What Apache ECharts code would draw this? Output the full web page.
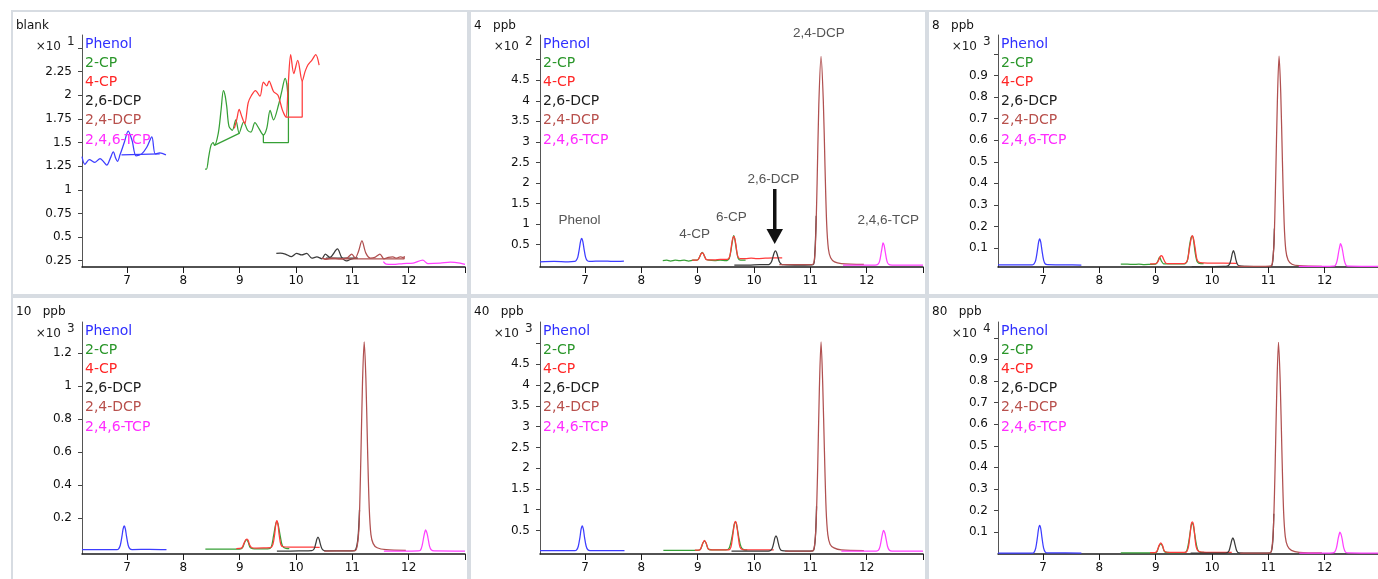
<!DOCTYPE html>
<html>
<head>
<meta charset="utf-8">
<title>Chlorophenol EIC overlays</title>
<script src="https://cdn.jsdelivr.net/npm/echarts@6/dist/echarts.min.js"></script>
<style>
  html, body { margin: 0; padding: 0; background: #fff; overflow: hidden; }
  .panel { position: absolute; box-sizing: border-box; border: 2px solid #d7dce2; background: #fff; }
  .chart { width: 100%; height: 100%; }
</style>
</head>
<body>
<div class="panel" style="left:11px;top:10px;width:458px;height:286px"><div class="chart" id="c0"></div></div>
<div class="panel" style="left:469px;top:10px;width:458px;height:286px"><div class="chart" id="c1"></div></div>
<div class="panel" style="left:927px;top:10px;width:458px;height:286px"><div class="chart" id="c2"></div></div>
<div class="panel" style="left:11px;top:296px;width:458px;height:290px"><div class="chart" id="c3"></div></div>
<div class="panel" style="left:469px;top:296px;width:458px;height:290px"><div class="chart" id="c4"></div></div>
<div class="panel" style="left:927px;top:296px;width:458px;height:290px"><div class="chart" id="c5"></div></div>
<script>
// compounds and colours
const compounds = ["Phenol", "2-CP", "4-CP", "2,6-DCP", "2,4-DCP", "2,4,6-TCP"];
const lineColors = ["#3d3dff", "#36a036", "#ff3b3b", "#3a3a3a", "#b05050", "#ff40ff"];
const textColors = ["#2f2fff", "#2a962a", "#ff2626", "#1e1e1e", "#b8504c", "#ff2cff"];

// retention time axis (min)
const xTicks = [7, 8, 9, 10, 11, 12, 13];
const xLabels = [7, 8, 9, 10, 11, 12];

// y ticks / labels per panel
const ticksBlank = [0.25, 0.5, 0.75, 1, 1.25, 1.5, 1.75, 2, 2.25, 2.5];
const labelsBlank = [0.25, 0.5, 0.75, 1, 1.25, 1.5, 1.75, 2, 2.25];
const ticksHalf = [0.5, 1, 1.5, 2, 2.5, 3, 3.5, 4, 4.5, 5];
const labelsHalf = [0.5, 1, 1.5, 2, 2.5, 3, 3.5, 4, 4.5];
const ticksTenth = [0.1, 0.2, 0.3, 0.4, 0.5, 0.6, 0.7, 0.8, 0.9, 1];
const labelsTenth = [0.1, 0.2, 0.3, 0.4, 0.5, 0.6, 0.7, 0.8, 0.9];
const ticksFifth = [0.2, 0.4, 0.6, 0.8, 1, 1.2];

// blank (x10^1)
const blankPhenol = [[6.2,1.35],[6.25,1.27],[6.33,1.32],[6.43,1.29],[6.52,1.33],[6.58,1.30],[6.64,1.26],[6.7,1.33],[6.756,1.40],[6.8,1.33],[6.83,1.30],[6.875,1.37],[6.95,1.50],[7.02,1.62],[7.09,1.52],[7.16,1.36],[7.26,1.38],[7.35,1.45],[7.44,1.56],[7.5,1.38],[7.58,1.39],[7.69,1.37]];
const blankCP2 = [[8.385,1.22],[8.41,1.22],[8.45,1.35],[8.49,1.47],[8.53,1.50],[8.55,1.47],[8.62,1.60],[8.67,1.85],[8.71,2.05],[8.74,2.0],[8.77,1.88],[8.81,1.67],[8.87,1.63],[8.93,1.74],[8.99,1.60],[9.07,1.72],[9.14,1.63],[9.2,1.61],[9.27,1.71],[9.34,1.65],[9.42,1.58],[9.48,1.65],[9.54,1.84],[9.6,1.74],[9.69,1.90],[9.75,2.05],[9.806,2.18],[9.84,2.1],[9.865,1.9]];
const blankCP4 = [[8.905,1.65],[8.95,1.75],[8.99,1.85],[9.04,1.77],[9.09,1.70],[9.15,1.92],[9.21,2.0],[9.28,2.05],[9.36,1.99],[9.42,2.14],[9.48,2.10],[9.52,2.15],[9.6,2.04],[9.68,2.0],[9.76,1.84],[9.82,1.77],[9.86,2.1],[9.905,2.43],[9.96,2.23],[10.03,2.37],[10.11,2.15],[10.16,2.25],[10.21,2.32],[10.28,2.37],[10.35,2.43],[10.41,2.32]];
const blankDCP26 = [[9.65,0.327],[9.72,0.33],[9.81,0.32],[9.92,0.292],[10.01,0.327],[10.1,0.31],[10.19,0.327],[10.28,0.277],[10.37,0.29],[10.46,0.27],[10.52,0.32],[10.6,0.285],[10.735,0.374],[10.81,0.285],[10.9,0.247],[10.99,0.27],[11.08,0.277]];
const blankDCP24 = [[10.46,0.277],[10.53,0.265],[10.64,0.277],[10.76,0.27],[10.9,0.277],[10.99,0.32],[11.05,0.277],[11.11,0.35],[11.17,0.46],[11.24,0.33],[11.32,0.277],[11.4,0.285],[11.49,0.32],[11.56,0.27],[11.64,0.285],[11.72,0.29],[11.78,0.277],[11.85,0.29],[11.92,0.277]];
const blankTCP = [[11.55,0.24],[11.6,0.214],[11.72,0.21],[11.9,0.22],[12.08,0.225],[12.25,0.255],[12.34,0.22],[12.56,0.225],[12.74,0.235],[12.91,0.225],[13.0,0.21]];
// integration baselines drawn in the blank
const blankPhenolBase = [[6.9,1.37],[7.58,1.38]];
const blankCP2Base1 = [[8.55,1.47],[9.0,1.60]];
const blankCP2Base2 = [[9.42,1.58],[9.42,1.5],[9.865,1.5],[9.865,2.13]];
const blankCP4Base = [[9.82,1.77],[10.11,1.77],[10.11,2.15]];
const blankDCP26Base = [[10.53,0.277],[11.1,0.277]];
const blankDCP24Base = [[10.5,0.27],[11.92,0.27],[11.92,0.3]];

// 4 ppb (x10^2)
const p4Phenol = [[6.2,0.08],[6.45,0.09],[6.7,0.08],[6.81,0.09],[6.84,0.11],[6.87,0.19],[6.9,0.41],[6.92,0.58],[6.94,0.65],[6.96,0.58],[6.98,0.41],[7.01,0.19],[7.04,0.11],[7.08,0.09],[7.3,0.1],[7.5,0.09],[7.69,0.1]];
const p4CP2 = [[8.38,0.11],[8.45,0.12],[8.52,0.1],[8.6,0.12],[8.68,0.11],[8.76,0.12],[8.84,0.1],[8.92,0.12],[8.98,0.12],[9.01,0.14],[9.04,0.22],[9.06,0.28],[9.08,0.31],[9.1,0.28],[9.12,0.22],[9.15,0.14],[9.2,0.12],[9.3,0.11],[9.4,0.12],[9.5,0.11],[9.53,0.12],[9.56,0.16],[9.59,0.35],[9.62,0.62],[9.64,0.72],[9.66,0.62],[9.69,0.35],[9.72,0.16],[9.76,0.12],[9.85,0.12]];
const p4CP4 = [[8.9,0.12],[8.98,0.12],[9.01,0.14],[9.04,0.22],[9.06,0.28],[9.08,0.30],[9.1,0.28],[9.12,0.22],[9.15,0.14],[9.2,0.13],[9.3,0.13],[9.4,0.14],[9.5,0.14],[9.54,0.15],[9.57,0.22],[9.6,0.48],[9.62,0.64],[9.64,0.70],[9.66,0.64],[9.68,0.48],[9.71,0.22],[9.75,0.16],[9.85,0.16],[9.95,0.17],[10.05,0.16],[10.2,0.17],[10.35,0.18],[10.5,0.18]];
const p4DCP26 = [[9.65,0.0],[9.9,0.0],[10.1,0.01],[10.25,0.01],[10.28,0.03],[10.31,0.08],[10.34,0.22],[10.36,0.31],[10.38,0.345],[10.4,0.31],[10.42,0.22],[10.45,0.08],[10.48,0.03],[10.52,0.01],[10.8,0.0],[11.05,0.01],[11.08,0.3],[11.104,1.2]];
const p4DCP24 = [[10.45,0.01],[10.7,0.01],[11.0,0.01],[11.06,0.05],[11.09,0.5],[11.12,2.0],[11.15,3.9],[11.19,5.08],[11.23,4.0],[11.26,2.4],[11.29,1.0],[11.32,0.4],[11.36,0.18],[11.43,0.08],[11.55,0.04],[11.95,0.02]];
const p4TCP = [[11.58,0.0],[11.9,0.0],[12.15,0.0],[12.2,0.02],[12.23,0.1],[12.26,0.32],[12.28,0.48],[12.29,0.54],[12.31,0.48],[12.33,0.32],[12.36,0.1],[12.39,0.02],[12.45,0.0],[13,0.0]];

// 8 ppb (x10^3)
const p8Phenol = [[6.2,0.022],[6.5,0.022],[6.81,0.022],[6.84,0.026],[6.87,0.044],[6.9,0.09],[6.92,0.126],[6.94,0.142],[6.96,0.126],[6.98,0.09],[7.01,0.044],[7.04,0.026],[7.08,0.023],[7.4,0.022],[7.68,0.021]];
const p8CP2 = [[8.38,0.025],[8.5,0.025],[8.6,0.024],[8.7,0.025],[8.8,0.023],[8.9,0.024],[9.0,0.025],[9.04,0.04],[9.07,0.058],[9.1,0.04],[9.14,0.027],[9.3,0.026],[9.5,0.026],[9.56,0.04],[9.6,0.11],[9.63,0.15],[9.65,0.155],[9.67,0.14],[9.7,0.08],[9.74,0.035],[9.8,0.028],[9.85,0.028]];
const p8CP4 = [[8.9,0.027],[8.98,0.027],[9.02,0.03],[9.05,0.043],[9.08,0.06],[9.1,0.065],[9.12,0.06],[9.15,0.043],[9.18,0.03],[9.22,0.028],[9.35,0.028],[9.5,0.028],[9.54,0.032],[9.57,0.05],[9.6,0.1],[9.63,0.145],[9.65,0.158],[9.67,0.145],[9.7,0.1],[9.73,0.05],[9.77,0.034],[9.85,0.031],[10.0,0.03],[10.2,0.03],[10.44,0.029]];
const p8DCP26 = [[9.64,0.014],[9.9,0.014],[10.2,0.015],[10.27,0.016],[10.31,0.025],[10.34,0.05],[10.36,0.075],[10.38,0.088],[10.4,0.075],[10.42,0.05],[10.45,0.025],[10.49,0.017],[10.6,0.015],[10.9,0.014],[11.05,0.015],[11.09,0.08],[11.107,0.19]];
const p8DCP24 = [[10.45,0.015],[10.8,0.015],[11.04,0.016],[11.07,0.03],[11.1,0.12],[11.13,0.42],[11.16,0.78],[11.19,0.99],[11.22,0.82],[11.25,0.5],[11.28,0.22],[11.31,0.09],[11.35,0.045],[11.42,0.025],[11.55,0.018],[11.95,0.015]];
const p8TCP = [[11.54,0.015],[12.0,0.015],[12.15,0.016],[12.19,0.02],[12.22,0.04],[12.25,0.085],[12.27,0.11],[12.28,0.12],[12.3,0.11],[12.32,0.085],[12.35,0.04],[12.38,0.02],[12.42,0.016],[13,0.015]];

// 10 ppb (x10^3)
const p10Phenol = [[6.2,0.008],[6.5,0.008],[6.82,0.008],[6.85,0.013],[6.88,0.035],[6.91,0.09],[6.93,0.135],[6.95,0.153],[6.97,0.135],[6.99,0.09],[7.02,0.035],[7.05,0.014],[7.09,0.009],[7.4,0.01],[7.7,0.008]];
const p10CP2 = [[8.39,0.012],[8.6,0.012],[8.8,0.011],[9.0,0.012],[9.05,0.02],[9.09,0.055],[9.12,0.07],[9.15,0.055],[9.19,0.02],[9.3,0.013],[9.5,0.013],[9.56,0.025],[9.6,0.09],[9.64,0.165],[9.66,0.178],[9.68,0.165],[9.72,0.09],[9.76,0.03],[9.82,0.016],[9.88,0.015]];
const p10CP4 = [[8.94,0.015],[9.0,0.016],[9.04,0.02],[9.08,0.05],[9.11,0.07],[9.13,0.073],[9.15,0.065],[9.18,0.035],[9.22,0.02],[9.3,0.018],[9.45,0.019],[9.55,0.02],[9.59,0.04],[9.62,0.1],[9.64,0.16],[9.66,0.184],[9.68,0.16],[9.7,0.1],[9.73,0.04],[9.77,0.026],[9.9,0.024],[10.1,0.024],[10.3,0.023],[10.42,0.022]];
const p10DCP26 = [[9.66,0.0],[9.9,0.0],[10.2,0.001],[10.28,0.002],[10.32,0.012],[10.35,0.045],[10.37,0.072],[10.39,0.085],[10.41,0.072],[10.43,0.045],[10.46,0.014],[10.5,0.003],[10.7,0.001],[11.0,0.001],[11.06,0.01],[11.1,0.08],[11.127,0.25]];
const p10DCP24 = [[10.5,0.0],[10.9,0.001],[11.05,0.002],[11.09,0.04],[11.12,0.16],[11.15,0.55],[11.18,1.02],[11.21,1.27],[11.24,1.05],[11.27,0.62],[11.3,0.26],[11.33,0.1],[11.37,0.045],[11.44,0.02],[11.6,0.008],[11.95,0.004]];
const p10TCP = [[11.56,0.0],[12.0,0.0],[12.17,0.001],[12.21,0.006],[12.24,0.035],[12.27,0.09],[12.29,0.12],[12.3,0.129],[12.32,0.115],[12.34,0.085],[12.37,0.03],[12.4,0.008],[12.45,0.001],[13,0.0]];

// 40 ppb (x10^3)
const p40Phenol = [[6.2,0.012],[6.5,0.012],[6.82,0.012],[6.85,0.03],[6.88,0.12],[6.91,0.34],[6.93,0.53],[6.95,0.61],[6.97,0.53],[6.99,0.34],[7.02,0.12],[7.05,0.035],[7.09,0.015],[7.4,0.012],[7.7,0.012]];
const p40CP2 = [[8.39,0.02],[8.6,0.02],[8.8,0.02],[9.0,0.022],[9.05,0.05],[9.09,0.19],[9.12,0.25],[9.15,0.19],[9.19,0.05],[9.3,0.03],[9.5,0.03],[9.56,0.08],[9.61,0.35],[9.65,0.65],[9.67,0.7],[9.69,0.64],[9.73,0.33],[9.77,0.1],[9.82,0.04],[9.88,0.035]];
const p40CP4 = [[8.95,0.025],[9.02,0.026],[9.05,0.05],[9.09,0.19],[9.12,0.26],[9.15,0.19],[9.19,0.05],[9.25,0.03],[9.4,0.03],[9.55,0.032],[9.59,0.1],[9.62,0.35],[9.65,0.65],[9.67,0.72],[9.69,0.65],[9.72,0.35],[9.75,0.1],[9.8,0.04],[9.95,0.03],[10.15,0.03],[10.35,0.03]];
const p40DCP26 = [[9.6,0.0],[9.9,0.0],[10.2,0.002],[10.28,0.01],[10.32,0.06],[10.35,0.2],[10.37,0.32],[10.39,0.37],[10.41,0.32],[10.43,0.2],[10.46,0.06],[10.5,0.012],[10.7,0.002],[11.0,0.002],[11.06,0.03],[11.09,0.35],[11.11,1.08]];
const p40DCP24 = [[10.55,0.0],[10.9,0.002],[11.04,0.01],[11.07,0.1],[11.1,0.6],[11.13,2.0],[11.16,3.9],[11.19,5.04],[11.22,4.0],[11.25,2.4],[11.28,1.0],[11.31,0.4],[11.35,0.17],[11.42,0.08],[11.55,0.03],[11.95,0.015]];
const p40TCP = [[11.55,0.0],[12.0,0.0],[12.17,0.003],[12.21,0.025],[12.24,0.13],[12.27,0.35],[12.29,0.47],[12.3,0.5],[12.32,0.45],[12.34,0.33],[12.37,0.12],[12.4,0.03],[12.45,0.004],[13,0.0]];

// 80 ppb (x10^4)
const p80Phenol = [[6.2,0.002],[6.5,0.002],[6.81,0.002],[6.84,0.006],[6.87,0.025],[6.9,0.075],[6.92,0.115],[6.94,0.131],[6.96,0.115],[6.98,0.075],[7.01,0.025],[7.04,0.007],[7.08,0.003],[7.4,0.003],[7.68,0.002]];
const p80CP2 = [[8.38,0.003],[8.6,0.003],[8.8,0.003],[8.98,0.003],[9.02,0.008],[9.06,0.035],[9.09,0.045],[9.12,0.035],[9.16,0.008],[9.3,0.004],[9.5,0.004],[9.55,0.012],[9.59,0.06],[9.63,0.128],[9.65,0.14],[9.67,0.128],[9.71,0.06],[9.75,0.015],[9.8,0.006],[9.86,0.005]];
const p80CP4 = [[8.9,0.004],[8.98,0.004],[9.02,0.01],[9.06,0.038],[9.09,0.05],[9.12,0.038],[9.16,0.01],[9.25,0.005],[9.4,0.005],[9.54,0.007],[9.58,0.03],[9.61,0.09],[9.63,0.135],[9.65,0.147],[9.67,0.135],[9.69,0.09],[9.72,0.03],[9.77,0.009],[9.9,0.006],[10.1,0.006],[10.35,0.006]];
const p80DCP26 = [[9.62,0.002],[9.9,0.002],[10.2,0.002],[10.26,0.003],[10.3,0.012],[10.33,0.04],[10.35,0.062],[10.37,0.073],[10.39,0.062],[10.41,0.04],[10.44,0.012],[10.48,0.003],[10.7,0.002],[11.0,0.002],[11.05,0.008],[11.08,0.06],[11.097,0.185]];
const p80DCP24 = [[10.5,0.002],[10.9,0.002],[11.03,0.003],[11.06,0.02],[11.09,0.12],[11.12,0.4],[11.15,0.76],[11.18,0.98],[11.21,0.8],[11.24,0.48],[11.27,0.2],[11.3,0.08],[11.34,0.035],[11.41,0.015],[11.55,0.006],[11.95,0.003]];
const p80TCP = [[11.55,0.002],[12.0,0.002],[12.14,0.003],[12.18,0.008],[12.21,0.028],[12.24,0.07],[12.26,0.092],[12.27,0.1],[12.29,0.09],[12.31,0.068],[12.34,0.025],[12.37,0.007],[12.42,0.003],[13,0.002]];

const panels = [
  { id: "c0", title: "blank", exp: "1", yMin: 0.183, yMax: 2.638, ticks: ticksBlank, labels: labelsBlank, top: 23,
    traces: [blankPhenol, blankCP2, blankCP4, blankDCP26, blankDCP24, blankTCP],
    bases: [[0, blankPhenolBase], [1, blankCP2Base1], [1, blankCP2Base2], [2, blankCP4Base], [3, blankDCP26Base], [4, blankDCP24Base]] },
  { id: "c1", title: "4   ppb", exp: "2", yMin: -0.045, yMax: 5.6, ticks: ticksHalf, labels: labelsHalf, top: 23,
    traces: [p4Phenol, p4CP2, p4CP4, p4DCP26, p4DCP24, p4TCP], bases: [], notes: true },
  { id: "c2", title: "8   ppb", exp: "3", yMin: 0.012, yMax: 1.088, ticks: ticksTenth, labels: labelsTenth, top: 23,
    traces: [p8Phenol, p8CP2, p8CP4, p8DCP26, p8DCP24, p8TCP], bases: [] },
  { id: "c3", title: "10   ppb", exp: "3", yMin: -0.018, yMax: 1.39, ticks: ticksFifth, labels: ticksFifth, top: 24,
    traces: [p10Phenol, p10CP2, p10CP4, p10DCP26, p10DCP24, p10TCP], bases: [] },
  { id: "c4", title: "40   ppb", exp: "3", yMin: -0.067, yMax: 5.52, ticks: ticksHalf, labels: labelsHalf, top: 24,
    traces: [p40Phenol, p40CP2, p40CP4, p40DCP26, p40DCP24, p40TCP], bases: [] },
  { id: "c5", title: "80   ppb", exp: "4", yMin: -0.002, yMax: 1.074, ticks: ticksTenth, labels: labelsTenth, top: 24,
    traces: [p80Phenol, p80CP2, p80CP4, p80DCP26, p80DCP24, p80TCP], bases: [] }
];

const FONT = "DejaVu Sans";
const GRID_LEFT = 69;

function noteText(x, y, text) {
  return {
    type: "text", x: x, y: y, silent: true,
    style: { text: text, fill: "#555", font: "13.5px 'Liberation Sans'", align: "center", verticalAlign: "middle",
             textAlign: "center", textVerticalAlign: "middle" }
  };
}

function buildOption(p) {
  const series = p.traces.map((d, i) => ({
    name: compounds[i], type: "line", data: d, showSymbol: false, smooth: 0.3,
    lineStyle: { color: lineColors[i], width: 1.25 }, itemStyle: { color: lineColors[i] },
    silent: true, z: 2 + i
  }));
  p.bases.forEach(([i, d]) => series.push({
    name: compounds[i], type: "line", data: d, showSymbol: false, smooth: false,
    lineStyle: { color: lineColors[i], width: 1.25 }, itemStyle: { color: lineColors[i] }, silent: true, z: 2 + i
  }));

  const expY = p.top + 11.5;
  const graphic = [
    { type: "text", x: GRID_LEFT - 21, y: expY, silent: true,
      style: { text: "×10", fill: "#222", font: "12px '" + FONT + "'", align: "right", verticalAlign: "middle",
               textAlign: "right", textVerticalAlign: "middle" } },
    { type: "text", x: GRID_LEFT - 15, y: expY - 5, silent: true,
      style: { text: p.exp, fill: "#222", font: "12px '" + FONT + "'", align: "left", verticalAlign: "middle",
               textAlign: "left", textVerticalAlign: "middle" } }
  ];
  if (p.notes) {
    graphic.push(
      noteText(108.5, 208.5, "Phenol"),
      noteText(223.7, 222, "4-CP"),
      noteText(260.3, 205, "6-CP"),
      noteText(302.3, 167, "2,6-DCP"),
      noteText(347.8, 21, "2,4-DCP"),
      noteText(417.3, 208, "2,4,6-TCP"),
      { type: "rect", silent: true, shape: { x: 302, y: 177, width: 3.5, height: 43 }, style: { fill: "#111" } },
      { type: "polygon", silent: true, shape: { points: [[295.5, 217], [312, 217], [303.7, 232]] }, style: { fill: "#111" } }
    );
  }

  return {
    animation: false,
    title: {
      text: p.title, left: 3, top: 8, padding: 0,
      textStyle: { fontFamily: FONT, fontSize: 12, fontWeight: "normal", color: "#111" }
    },
    legend: {
      orient: "vertical", left: 66, top: p.top + 2, padding: 0, itemGap: 5.2,
      itemWidth: 0, itemHeight: 0, selectedMode: false,
      data: compounds.map((n, i) => ({ name: n, textStyle: { color: textColors[i] } })),
      textStyle: { fontFamily: FONT, fontSize: 14 }
    },
    grid: { left: GRID_LEFT, top: p.top, width: 383, height: 232 },
    xAxis: {
      type: "value", min: 6.2, max: 13,
      axisLine: { onZero: false, lineStyle: { color: "#1a1a1a", width: 1.5 } },
      axisTick: { customValues: xTicks, length: 6, lineStyle: { color: "#1a1a1a" } },
      axisLabel: { customValues: xLabels, margin: 8, color: "#111", fontFamily: FONT, fontSize: 12 },
      splitLine: { show: false }
    },
    yAxis: {
      type: "value", min: p.yMin, max: p.yMax,
      axisLine: { show: true, onZero: false, lineStyle: { color: "#555", width: 1 } },
      axisTick: { show: true, customValues: p.ticks, length: 4, lineStyle: { color: "#444" } },
      axisLabel: { customValues: p.labels, margin: 10, color: "#111", fontFamily: FONT, fontSize: 12,
                   formatter: v => String(v) },
      splitLine: { show: false }
    },
    graphic: graphic,
    series: series
  };
}

panels.forEach(p => {
  const chart = echarts.init(document.getElementById(p.id));
  chart.setOption(buildOption(p));
});
</script>
</body>
</html>
